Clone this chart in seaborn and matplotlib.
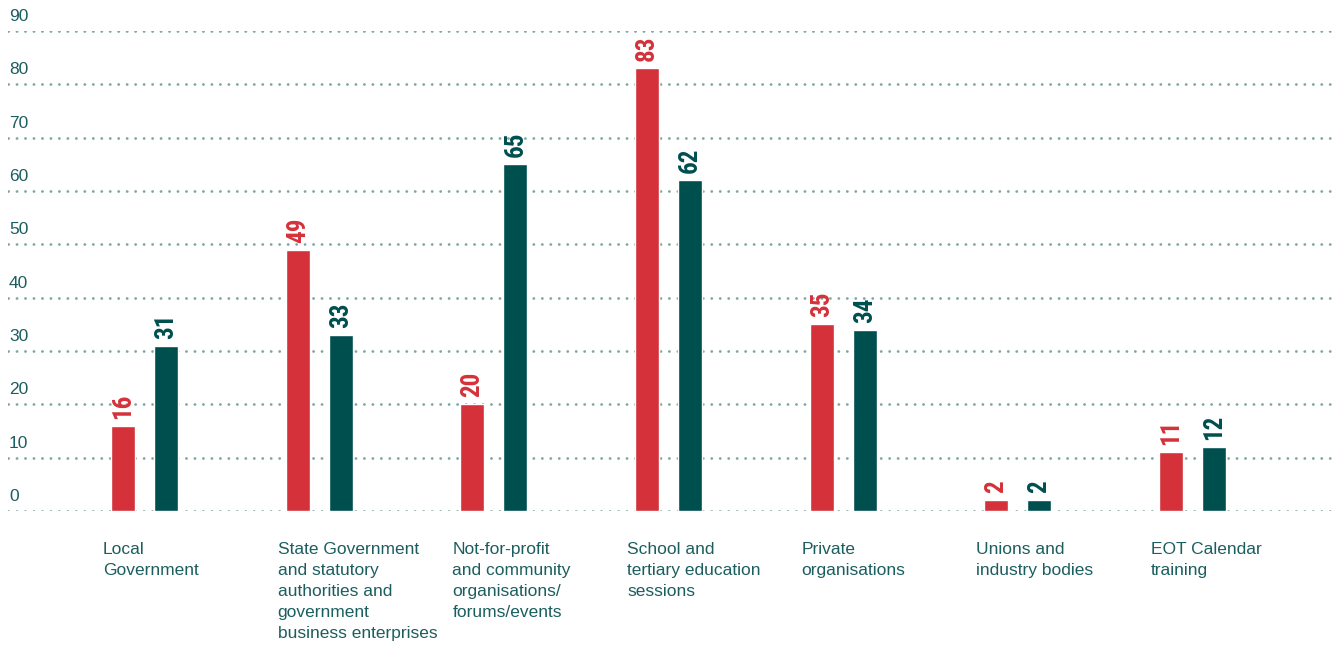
import matplotlib
matplotlib.use("Agg")
import matplotlib.pyplot as plt
import matplotlib.transforms as mtransforms
import seaborn as sns
import pandas as pd

# Sessions delivered by audience type, two reporting periods
categories = [
    "Local\nGovernment",
    "State Government\nand statutory\nauthorities and\ngovernment\nbusiness enterprises",
    "Not-for-profit\nand community\norganisations/\nforums/events",
    "School and\ntertiary education\nsessions",
    "Private\norganisations",
    "Unions and\nindustry bodies",
    "EOT Calendar\ntraining",
]
periods = ["Earlier period", "Later period"]
earlier_values = [16, 49, 20, 83, 35, 2, 11]
later_values = [31, 33, 65, 62, 34, 2, 12]
y_ticks = [0, 10, 20, 30, 40, 50, 60, 70, 80, 90]

RED = "#D5313A"
GREEN = "#004F4F"
TEXT = "#1C5E5F"
GRID = "#7FA6A6"

df = pd.DataFrame({
    "category": categories * 2,
    "period": [periods[0]] * len(categories) + [periods[1]] * len(categories),
    "value": earlier_values + later_values,
})

sns.set_style("white")
plt.rcParams["font.family"] = ["Liberation Sans", "DejaVu Sans"]

W, H, DPI = 1338, 645, 100
fig = plt.figure(figsize=(W / DPI, H / DPI), dpi=DPI)
ax_left, ax_bottom, ax_top = 8, 511, 31
ax = fig.add_axes([ax_left / W, (H - ax_bottom) / H, (W - ax_left) / W, (ax_bottom - ax_top) / H])

sns.barplot(
    data=df, x="category", y="value", hue="period",
    order=categories, hue_order=periods,
    palette=[RED, GREEN], saturation=1, width=0.492, gap=0.44,
    legend=False, ax=ax, zorder=3,
)

# horizontal scale: one category step ~174.7 px, first group centred at 144.5 px
step = 174.67
ax.set_xlim(-(144.5 - ax_left) / step, 6 + (W - 1192.5) / step)
ax.set_ylim(0, 90)

# value labels, rotated, in the colour of each series (condensed face)
for cont, col in zip(ax.containers, [RED, GREEN]):
    ax.bar_label(cont, labels=[f"{v:.0f}" for v in cont.datavalues], rotation=90,
                 padding=5, color=col, fontsize=18, fontweight="bold",
                 fontstretch="condensed",
                 family=["Roboto Condensed", "Liberation Sans Narrow", "Liberation Sans"])

# dotted horizontal guides
for t in y_ticks:
    ax.axhline(t, color=GRID, linewidth=2.0, linestyle=(0, (0.05, 3.0)),
               dash_capstyle="round", zorder=1)

# y values written above each guide at the left edge
ytrans = mtransforms.blended_transform_factory(ax.transAxes, ax.transData)
ytrans = ytrans + mtransforms.ScaledTranslation(1 / DPI, 7 / DPI, fig.dpi_scale_trans)
for t in y_ticks:
    ax.text(0, t, f"{t}", transform=ytrans, ha="left", va="bottom",
            fontsize=12.5, color=TEXT)

ax.set_yticks([])
ax.set_xlabel("")
ax.set_ylabel("")
ax.tick_params(axis="x", length=0, pad=22, colors=TEXT, labelsize=12.5)
shift = mtransforms.ScaledTranslation(-41.5 / DPI, 0, fig.dpi_scale_trans)
for lab in ax.get_xticklabels():
    lab.set_horizontalalignment("left")
    lab.set_verticalalignment("top")
    lab.set_linespacing(1.51)
    lab.set_transform(lab.get_transform() + shift)

for s in ax.spines.values():
    s.set_visible(False)

fig.savefig("out.png", dpi=DPI, facecolor="white")
